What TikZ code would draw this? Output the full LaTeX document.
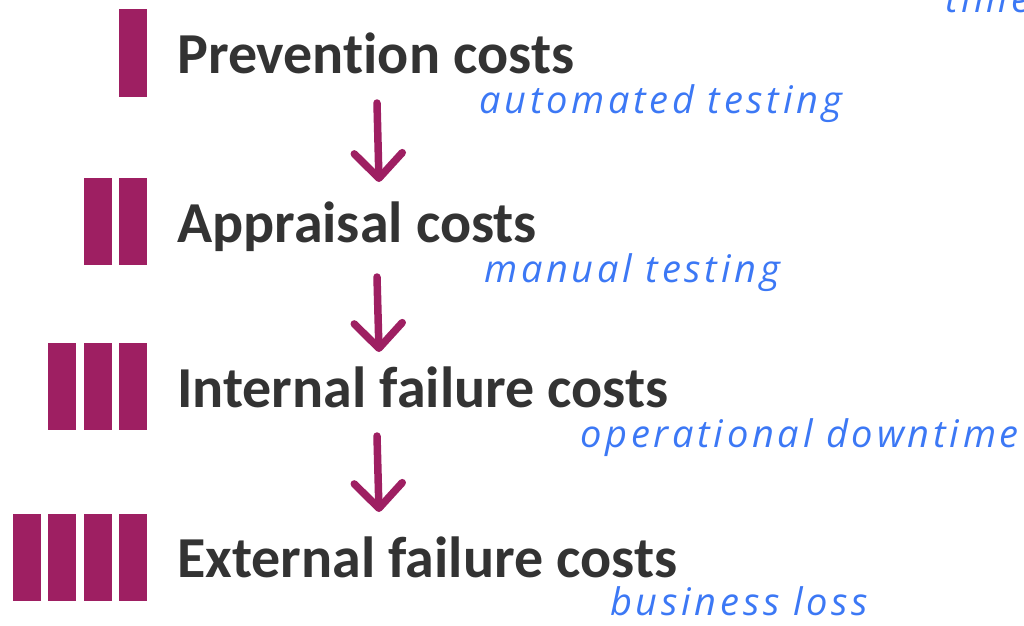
\documentclass[tikz,border=0pt]{standalone}
\usepackage{fontspec}
\setmainfont{Carlito}[Ligatures={NoCommon}]
\newfontfamily\hand{Open Sans}[LetterSpace=9.8]
\usetikzlibrary{arrows.meta}
\definecolor{barcol}{RGB}{158,31,98}
\definecolor{maintext}{RGB}{51,51,51}
\definecolor{notecol}{RGB}{60,120,245}
\begin{document}
\begin{tikzpicture}[x=1pt,y=-1pt,
  bar/.style={fill=barcol,draw=none},
  mainlbl/.style={anchor=base west,inner sep=0pt,text=maintext,font=\fontsize{58}{60}\selectfont\bfseries},
  notelbl/.style={anchor=base west,inner sep=0pt,text=notecol,font=\hand\itshape\fontsize{38}{42}\selectfont},
  flow/.style={draw=barcol,line width=7.5pt,line cap=round,-{Straight Barb[length=25pt,width=48pt,round]}}]
\useasboundingbox (0,0) rectangle (1024,625);
\clip (0,0) rectangle (1024,625);
% bars
\fill[bar] (119,9) rectangle (147,97);
\foreach \x in {84,119} \fill[bar] (\x,178) rectangle ++(28,87);
\foreach \x in {48,84,119} \fill[bar] (\x,343) rectangle ++(28,87);
\foreach \x in {13,48,84,119} \fill[bar] (\x,514) rectangle ++(28,87);
% labels
\node[mainlbl] (p) at (177,73) {Prevention costs};
\node[mainlbl] (a) at (177,242) {Appraisal costs};
\node[mainlbl] (i) at (177,407) {Internal failure costs};
\node[mainlbl] (e) at (177,577) {External failure costs};
\node[notelbl] (n1) at (479,113) {automated testing};
\node[notelbl] (n2) at (484,282) {manual testing};
\node[notelbl] (n3) at (580,447) {operational downtime};
\node[notelbl] (n4) at (610,615) {business loss};
\node[notelbl] (n0) at (945,12) {time};
% arrows
\coordinate (s1) at (377,103); \coordinate (t1) at (379,182);
\coordinate (s2) at (377,277); \coordinate (t2) at (379,352);
\coordinate (s3) at (377,436); \coordinate (t3) at (379,512);
\draw[flow] (s1) -- (t1);
\draw[flow] (s2) -- (t2);
\draw[flow] (s3) -- (t3);
\end{tikzpicture}
\end{document}
